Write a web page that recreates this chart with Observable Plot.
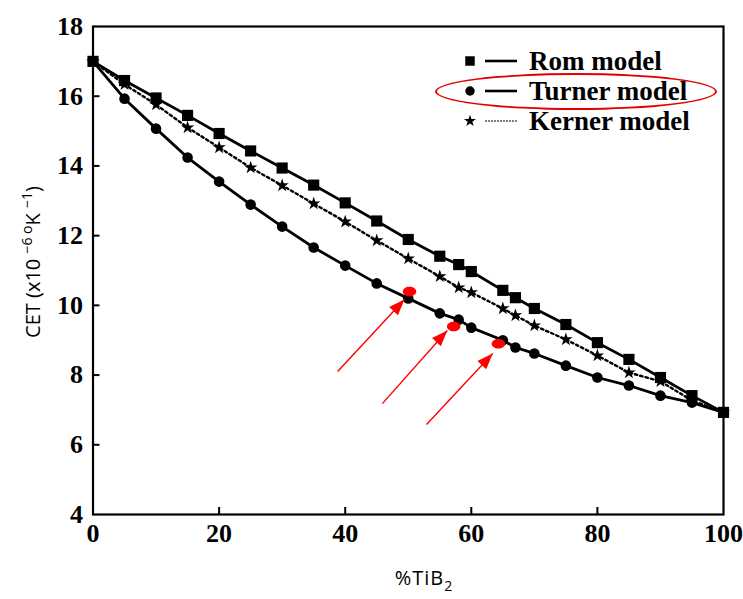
<!DOCTYPE html>
<html><head><meta charset="utf-8">
<script src="https://cdn.jsdelivr.net/npm/d3@7"></script>
<script src="https://cdn.jsdelivr.net/npm/@observablehq/plot@0.6"></script>
<style>
html,body{margin:0;padding:0;background:#fff;}
#wrap{position:relative;width:743px;height:599px;overflow:hidden;}
#legend{position:absolute;left:455px;top:46px;font-family:"Liberation Serif","Times New Roman",serif;font-weight:bold;font-size:27px;line-height:30px;color:#000;}
#legend .row{display:flex;align-items:center;height:30px;white-space:nowrap;}
#legend svg{display:block;margin-right:10px;}
#legend .ring{position:absolute;left:-20px;top:27px;width:278px;height:33px;border:2px solid #e00000;border-radius:50%;}
</style></head><body>
<div id="wrap"></div>
<script>
// ---- data ----
const composition = [0,5,10,15,20,25,30,35,40,45,50,55,58,60,65,67,70,75,80,85,90,95,100];
const romModel    = [17.0,16.45,15.95,15.45,14.93,14.43,13.94,13.45,12.94,12.42,11.89,11.41,11.17,10.97,10.43,10.22,9.91,9.45,8.93,8.45,7.93,7.41,6.93];
const turnerModel = [17.0,15.93,15.07,14.24,13.55,12.89,12.26,11.66,11.14,10.63,10.20,9.77,9.59,9.36,9.00,8.79,8.62,8.27,7.93,7.70,7.41,7.21,6.93];
const kernerModel = [17.0,16.34,15.76,15.10,14.53,13.95,13.44,12.92,12.40,11.86,11.34,10.83,10.51,10.37,9.91,9.71,9.42,9.02,8.56,8.07,7.82,7.27,6.93];
const seriesNames = ["Rom model","Turner model","Kerner model"];
const xTicks = [0,20,40,60,80,100];
const yTicks = [4,6,8,10,12,14,16,18];
// red highlighted points and arrows (annotation)
const highlightX = [50.2,57.2,64.3];
const highlightY = [10.40,9.39,8.90];
const arrowFromX = [38.8,45.9,52.9];
const arrowFromY = [8.10,7.18,6.58];
const arrowToX   = [49.4,56.2,63.4];
const arrowToY   = [10.17,9.28,8.62];

// ---- tables built from arrays ----
const rom = composition.map((x,i)=>({x, y: romModel[i]}));
const turner = composition.map((x,i)=>({x, y: turnerModel[i]}));
const kerner = composition.map((x,i)=>({x, y: kernerModel[i]}));
const highlights = highlightX.map((x,i)=>({x, y: highlightY[i]}));
const arrows = arrowFromX.map((x1,i)=>({x1, y1: arrowFromY[i], x2: arrowToX[i], y2: arrowToY[i]}));

const W = 743, H = 599;
const mL = 92.5, mR = 20, mT = 26, mB = 85;
const plotW = W - mL - mR, plotH = H - mT - mB;

const ellipseSymbol = {draw(ctx, size){
  const r = Math.sqrt(size/Math.PI), rx = r*1.35, ry = r*0.95, k = 0.5523;
  ctx.moveTo(rx,0);
  ctx.bezierCurveTo(rx, ry*k, rx*k, ry, 0, ry);
  ctx.bezierCurveTo(-rx*k, ry, -rx, ry*k, -rx, 0);
  ctx.bezierCurveTo(-rx, -ry*k, -rx*k, -ry, 0, -ry);
  ctx.bezierCurveTo(rx*k, -ry, rx, -ry*k, rx, 0);
  ctx.closePath();
}};
const headSymbol = {draw(ctx, size){
  const r = Math.sqrt(size/Math.PI);
  ctx.moveTo(0,0); ctx.lineTo(-0.75*r, 2*r); ctx.lineTo(0.75*r, 2*r); ctx.closePath();
}};

const tickFont = {fontSize: 26, fontWeight: "bold", fontFamily: "Liberation Serif"};

const plot = Plot.plot({
  width: W, height: H,
  marginLeft: mL, marginRight: mR, marginTop: mT, marginBottom: mB,
  style: {background: "#fff", color: "#000", fontFamily: "Liberation Serif"},
  x: {domain: [0,100]},
  y: {domain: [4,18]},
  marks: [
    Plot.axisX({ticks: xTicks, tickSize: 0, tickPadding: 9, label: null, ...tickFont}),
    Plot.axisY({ticks: yTicks, tickSize: 0, tickPadding: 10, label: null, ...tickFont}),
    Plot.tickX(xTicks.slice(1,-1), {x: d=>d, insetTop: plotH - 7, stroke: "#000", strokeWidth: 2}),
    Plot.tickY(yTicks.slice(1,-1), {y: d=>d, insetRight: plotW - 7, stroke: "#000", strokeWidth: 2}),
    Plot.frame({stroke: "#000", strokeWidth: 2.2}),
    Plot.line(rom, {x: "x", y: "y", stroke: "#000", strokeWidth: 2.8}),
    Plot.line(turner, {x: "x", y: "y", stroke: "#000", strokeWidth: 2.8}),
    Plot.line(kerner, {x: "x", y: "y", stroke: "#000", strokeWidth: 2.4, strokeDasharray: "2.5,3"}),
    Plot.dot(rom, {x: "x", y: "y", symbol: "square", r: 6.3, fill: "#000"}),
    Plot.dot(turner, {x: "x", y: "y", symbol: "circle", r: 5.3, fill: "#000"}),
    Plot.dot(kerner, {x: "x", y: "y", symbol: "star", r: 4.2, fill: "#000"}),
    Plot.link(arrows, {x1: "x1", y1: "y1", x2: "x2", y2: "y2", stroke: "#f00", strokeWidth: 1.4}),
    Plot.dot(arrows, {x: "x2", y: "y2", symbol: headSymbol, r: 8, rotate: 43, fill: "#f00"}),
    Plot.dot(highlights, {x: "x", y: "y", symbol: ellipseSymbol, r: 5, fill: "#f00"})
  ]
});

const svg = d3.select(plot);
// y axis title with superscripts
const yt = svg.append("text")
  .attr("transform", "translate(40,262) rotate(-90)")
  .attr("text-anchor", "middle")
  .attr("font-family", "Open Sans")
  .attr("font-size", 20)
  .attr("fill", "#000");
yt.append("tspan").text("CET (x10 ");
yt.append("tspan").attr("dy", -8).attr("font-size", 14).text("−6 ");
yt.append("tspan").attr("dy", 0).attr("font-size", 14).text("o");
yt.append("tspan").attr("dy", 8).text("K ");
yt.append("tspan").attr("dy", -8).attr("font-size", 14).text("−1");
yt.append("tspan").attr("dy", 8).text(")");
// x axis title with subscript
const xt = svg.append("text")
  .attr("x", 424).attr("y", 585)
  .attr("text-anchor", "middle")
  .attr("font-family", "Open Sans")
  .attr("font-size", 20)
  .attr("letter-spacing", 1)
  .attr("fill", "#000");
xt.append("tspan").text("%TiB");
xt.append("tspan").attr("dy", 6).attr("font-size", 14).text("2");

const wrap = document.getElementById("wrap");
wrap.appendChild(plot);

// legend
const legend = document.createElement("div");
legend.id = "legend";
const symbols = ["square","circle","star"];
seriesNames.forEach((name, i) => {
  const row = document.createElement("div");
  row.className = "row";
  const s = d3.create("svg").attr("width", 64).attr("height", 30);
  const sym = {square: d3.symbolSquare, circle: d3.symbolCircle, star: d3.symbolStar}[symbols[i]];
  s.append("path").attr("transform", "translate(15,15)")
    .attr("d", d3.symbol(sym, i === 0 ? 90 : i === 1 ? 70 : 45)()).attr("fill", "#000");
  s.append("line").attr("x1", 30).attr("x2", 62).attr("y1", 15).attr("y2", 15)
    .attr("stroke", "#000").attr("stroke-width", i === 2 ? 1.2 : 2.6)
    .attr("stroke-dasharray", i === 2 ? "2,1" : null);
  row.appendChild(s.node());
  const t = document.createElement("span");
  t.textContent = name;
  row.appendChild(t);
  legend.appendChild(row);
});
const ring = document.createElement("div");
ring.className = "ring";
legend.appendChild(ring);
wrap.appendChild(legend);
</script>
</body></html>
